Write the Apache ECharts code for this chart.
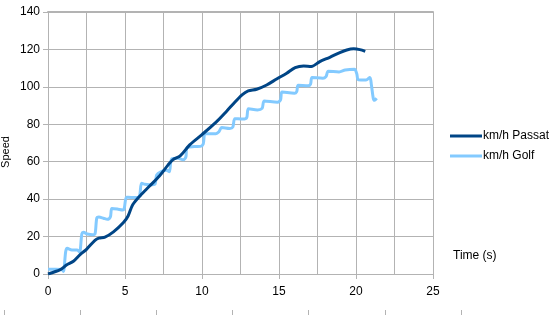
<!DOCTYPE html>
<html><head><meta charset="utf-8">
<script src="https://cdn.jsdelivr.net/npm/echarts@6/dist/echarts.min.js"></script>
<style>html,body{margin:0;padding:0;background:#fff}#c{width:556px;height:315px}</style>
</head><body><div id="c"></div>
<script>
// Data (time in seconds, speed in km/h)
const passatTime = [0,0.8,1.2,1.65,2.1,2.5,3.05,3.3,3.7,4.25,4.9,5.2,5.5,6.0,6.6,7.25,7.8,8.1,8.6,9.2,10.0,10.9,11.6,12.1,12.6,13.0,13.55,14.2,14.85,15.5,16.05,16.6,17.1,17.65,18.3,18.95,19.4,19.85,20.25,20.6];
const passatSpeed = [0,2.3,4.8,6.8,10.5,13.2,18,19.2,19.7,22.5,27.5,31,37,42,47,52.5,58.3,61,63.2,69,74.5,81,87,91.5,95.7,97.8,98.7,101,104.2,107.3,110.3,111.2,110.9,113.5,115.8,118.3,119.7,120.3,119.9,119];
const golfTime = [0,0.5,0.9,1.0,1.15,1.25,1.55,1.9,2.05,2.2,2.3,2.55,2.9,3.05,3.17,3.3,3.6,3.85,4.05,4.15,4.5,4.85,4.95,5.1,5.4,5.8,5.95,6.08,6.3,6.8,6.95,7.06,7.35,7.7,7.88,8.03,8.45,8.78,8.95,9.02,9.5,9.9,10.08,10.2,10.6,10.9,11.1,11.28,11.8,12.0,12.14,12.65,12.9,13.02,13.6,13.9,14.05,14.9,15.1,15.2,16.0,16.15,16.25,16.9,17.05,17.15,17.85,18.05,18.2,18.9,19.3,19.9,20.05,20.15,20.65,20.9,21.0,21.12,21.2,21.34];
const golfSpeed = [2.6,2.6,2.4,1.4,12,13.7,12.8,12.8,11.8,21.5,22.3,21.4,21,21.3,30,30.4,29.8,29.2,30.5,35,34.7,34.2,35,41,40.9,40.9,42,48.5,48,47.7,48,53,54.7,55.4,54.6,61.5,61.8,61,62.5,67.5,68.1,68.2,69.5,75,75,75,76,78.3,77.8,78.5,83,82.8,83.5,88.3,87.7,88.5,92.5,91.8,93,97.2,96.6,97.5,100.8,100.6,101.5,105,104.6,105.5,108.3,108,109,109.4,107,103.8,103.7,105,101,94,92.8,93.9];
const seriesNames = ['km/h Passat', 'km/h Golf'];
const xTicks = [0, 25, 5];   // min, max, interval
const yTicks = [0, 140, 20];
const ghostTicks = [0, 6, 1];

const zip = (a, b) => a.map((v, i) => [v, b[i]]);
const font = "'Liberation Sans', Arial, sans-serif";
const gridColor = '#b3b3b3';

const chart = echarts.init(document.getElementById('c'), null, {renderer: 'canvas'});
chart.setOption({
  animation: false,
  textStyle: {fontFamily: font},
  grid: [
    {left: 48, top: 12, right: 123, bottom: 41},
    {left: 4, right: 95, top: 309, height: 1}
  ],
  legend: {
    orient: 'vertical', left: 445, top: 124, itemWidth: 32, itemHeight: 3, itemGap: 6,
    icon: 'rect',
    textStyle: {fontFamily: font, fontSize: 12, color: '#000', lineHeight: 14, padding: [0, 0, 0, -4]},
    data: seriesNames
  },
  xAxis: [
    {
      type: 'value', min: xTicks[0], max: xTicks[1], interval: xTicks[2], gridIndex: 0,
      name: 'Time (s)', nameLocation: 'end', nameGap: 20,
      nameTextStyle: {fontFamily: font, fontSize: 12, color: '#000', align: 'left', verticalAlign: 'bottom', padding: [0,0,12,0]},
      axisLine: {show: true, lineStyle: {color: gridColor}},
      axisTick: {show: true, length: 5, lineStyle: {color: gridColor}},
      axisLabel: {color: '#000', fontSize: 12, fontFamily: font, margin: 12},
      splitLine: {show: true, lineStyle: {color: gridColor}},
      minorTick: {show: false, splitNumber: 2},
      minorSplitLine: {show: true, lineStyle: {color: gridColor}}
    },
    {
      type: 'value', min: xTicks[0], max: xTicks[1], gridIndex: 0, position: 'top',
      axisLine: {show: true, lineStyle: {color: gridColor, width: 2}},
      axisTick: {show: false}, axisLabel: {show: false}, splitLine: {show: false}
    },
    {
      type: 'value', min: ghostTicks[0], max: ghostTicks[1], interval: ghostTicks[2], gridIndex: 1,
      axisLine: {show: false},
      axisTick: {show: true, length: 6, lineStyle: {color: gridColor}},
      axisLabel: {show: false}, splitLine: {show: false}
    }
  ],
  yAxis: [
    {
      type: 'value', min: yTicks[0], max: yTicks[1], interval: yTicks[2], gridIndex: 0,
      axisLine: {show: true, lineStyle: {color: gridColor}},
      axisTick: {show: true, length: 5, lineStyle: {color: gridColor}},
      axisLabel: {color: '#000', fontSize: 12, fontFamily: font, margin: 8},
      splitLine: {show: true, lineStyle: {color: gridColor}}
    },
    {type: 'value', gridIndex: 1, show: false}
  ],
  graphic: [{
    type: 'text', x: 0, y: 152, rotation: Math.PI / 2,
    style: {text: 'Speed', font: '11px ' + font, fill: '#000', textAlign: 'center', textVerticalAlign: 'top'}
  }],
  series: [
    {
      name: seriesNames[0], type: 'line', xAxisIndex: 0, yAxisIndex: 0,
      data: zip(passatTime, passatSpeed), showSymbol: false, smooth: 0.3,
      lineStyle: {color: '#004586', width: 3}, itemStyle: {color: '#004586'}, z: 3
    },
    {
      name: seriesNames[1], type: 'line', xAxisIndex: 0, yAxisIndex: 0,
      data: zip(golfTime, golfSpeed), showSymbol: false, smooth: 0.3,
      lineStyle: {color: '#83caff', width: 3}, itemStyle: {color: '#83caff'}, z: 2
    }
  ]
});
</script></body></html>
